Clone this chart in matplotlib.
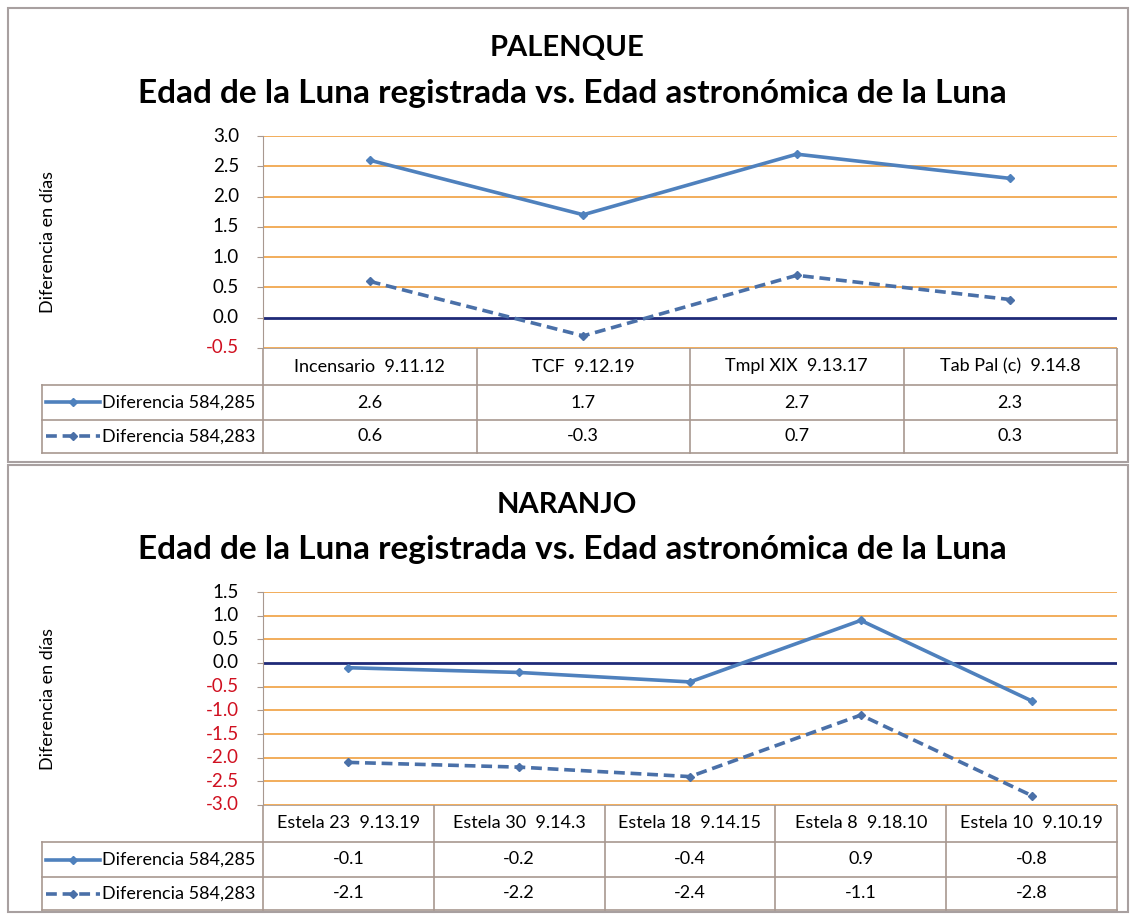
import numpy as np
import matplotlib.pyplot as plt
from matplotlib.patches import Rectangle
from matplotlib.lines import Line2D
from matplotlib.transforms import blended_transform_factory

#----データ--------------------------------------------------------------
SERIES=['Diferencia 584,285','Diferencia 584,283']

PAL_CATS=['Incensario  9.11.12','TCF  9.12.19','Tmpl XIX  9.13.17','Tab Pal (c)  9.14.8']
PAL_285=[2.6,1.7,2.7,2.3]
PAL_283=[0.6,-0.3,0.7,0.3]

NAR_CATS=['Estela 23  9.13.19','Estela 30  9.14.3','Estela 18  9.14.15','Estela 8  9.18.10','Estela 10  9.10.19']
NAR_285=[-0.1,-0.2,-0.4,0.9,-0.8]
NAR_283=[-2.1,-2.2,-2.4,-1.1,-2.8]

#----描画設定------------------------------------------------------------
W,H=1130,915
plt.rcParams['font.family']=['Lato','DejaVu Sans']
LINE_C='#4F81BD'
DASH_C='#4A70A8'
GRID_C='#F0A040'
ZERO_C='#1F2A78'
TAB_C='#A89890'
BOX_C='#A8A0A0'
SUB='Edad de la Luna registrada vs. Edad astronómica de la Luna'
FS=13

fig=plt.figure(figsize=(W/100,H/100),dpi=100)

def px(x0,y0,x1,y1):
  # ピクセル座標(左上原点) -> figure座標
  return [x0/W,1-y1/H,(x1-x0)/W,(y1-y0)/H]

def panel(top,bot,name,cats,s1,s2,ymin,ymax,g):
  # g: (title1, title2, plot_top, plot_bottom, row1, row2, row3)
  t1,t2,pt,pb,r1,r2,r3=g
  fig.patches.append(Rectangle((8/W,1-bot/H),1120/W,(bot-top)/H,transform=fig.transFigure,
                               fill=False,ec=BOX_C,lw=1.5))
  fig.text(567/W,1-t1/H,name,ha='center',va='center',fontsize=21,fontweight='bold')
  fig.text(572/W,1-t2/H,SUB,ha='center',va='center',fontsize=24,fontweight='bold')
  fig.text(48/W,1-(pt+pb)/2/H,'Diferencia en días',rotation=90,ha='center',va='center',fontsize=13)

  n=len(cats)
  ax=fig.add_axes(px(263,pt,1117,pb))
  ax.set_xlim(-0.5,n-0.5)
  ax.set_ylim(ymin,ymax)
  ticks=np.arange(ymin,ymax+0.01,0.5)
  ax.set_yticks(ticks)
  ax.set_yticklabels([])
  ax.tick_params(axis='y',length=4,color=TAB_C)
  # 目盛ラベル(負の値は赤)
  tr=blended_transform_factory(fig.transFigure,ax.transData)
  for t in ticks:
    ax.text(239/W,t,f'{t:.1f}',transform=tr,ha='right',va='center',
            fontsize=13.5,color='#D01020' if t<0 else 'black')
  ax.set_xticks([])
  for t in ticks:
    if abs(t)<1e-9:
      ax.axhline(0,color=ZERO_C,lw=2,zorder=2)
    else:
      ax.axhline(t,color=GRID_C,lw=1.2,zorder=1)
  for s in ['top','right','bottom']:
    ax.spines[s].set_visible(False)
  ax.spines['left'].set_color(TAB_C)
  x=np.arange(n)
  ax.plot(x,s1,color=LINE_C,lw=2.6,marker='D',ms=4.5,zorder=3,clip_on=False)
  ax.plot(x,s2,color=DASH_C,lw=2.6,ls=(0,(3,1.6)),marker='D',ms=4.5,zorder=3,clip_on=False)

  # データテーブル
  tb=fig.add_axes(px(0,pb,W,r3+2))
  tb.set_xlim(0,W)
  tb.set_ylim(r3+2,pb)
  tb.axis('off')
  colw=(1117-263)/n
  kw=dict(color=TAB_C,lw=1.2)
  tb.plot([263,1117],[pb,pb],**kw)
  for y in (r1,r2,r3):
    tb.plot([42,1117],[y,y],**kw)
  tb.plot([42,42],[r1,r3],**kw)
  for i in range(n+1):
    xx=263+i*colw
    tb.plot([xx,xx],[pb,r3],**kw)
  for i,c in enumerate(cats):
    cx=263+(i+0.5)*colw
    tb.text(cx,(pb+r1)/2,c,ha='center',va='center',fontsize=FS)
    tb.text(cx,(r1+r2)/2,f'{s1[i]:.1f}',ha='center',va='center',fontsize=FS)
    tb.text(cx,(r2+r3)/2,f'{s2[i]:.1f}',ha='center',va='center',fontsize=FS)
  for j,(y0,y1) in enumerate([(r1,r2),(r2,r3)]):
    ym=(y0+y1)/2
    c=LINE_C if j==0 else DASH_C
    tb.add_line(Line2D([46,100],[ym,ym],color=c,lw=2.6,ls='-' if j==0 else (0,(3,1.6))))
    tb.plot([73],[ym],marker='D',ms=4.5,color=c)
    tb.text(102,ym,SERIES[j],ha='left',va='center',fontsize=FS)

panel(8,462,'PALENQUE',PAL_CATS,PAL_285,PAL_283,-0.5,3.0,(48,93,136,348,385,420,453))
panel(465,912,'NARANJO',NAR_CATS,NAR_285,NAR_283,-3.0,1.5,(505,549,592,805,842,877,910))

plt.savefig('out.png',dpi=100)
plt.close()
